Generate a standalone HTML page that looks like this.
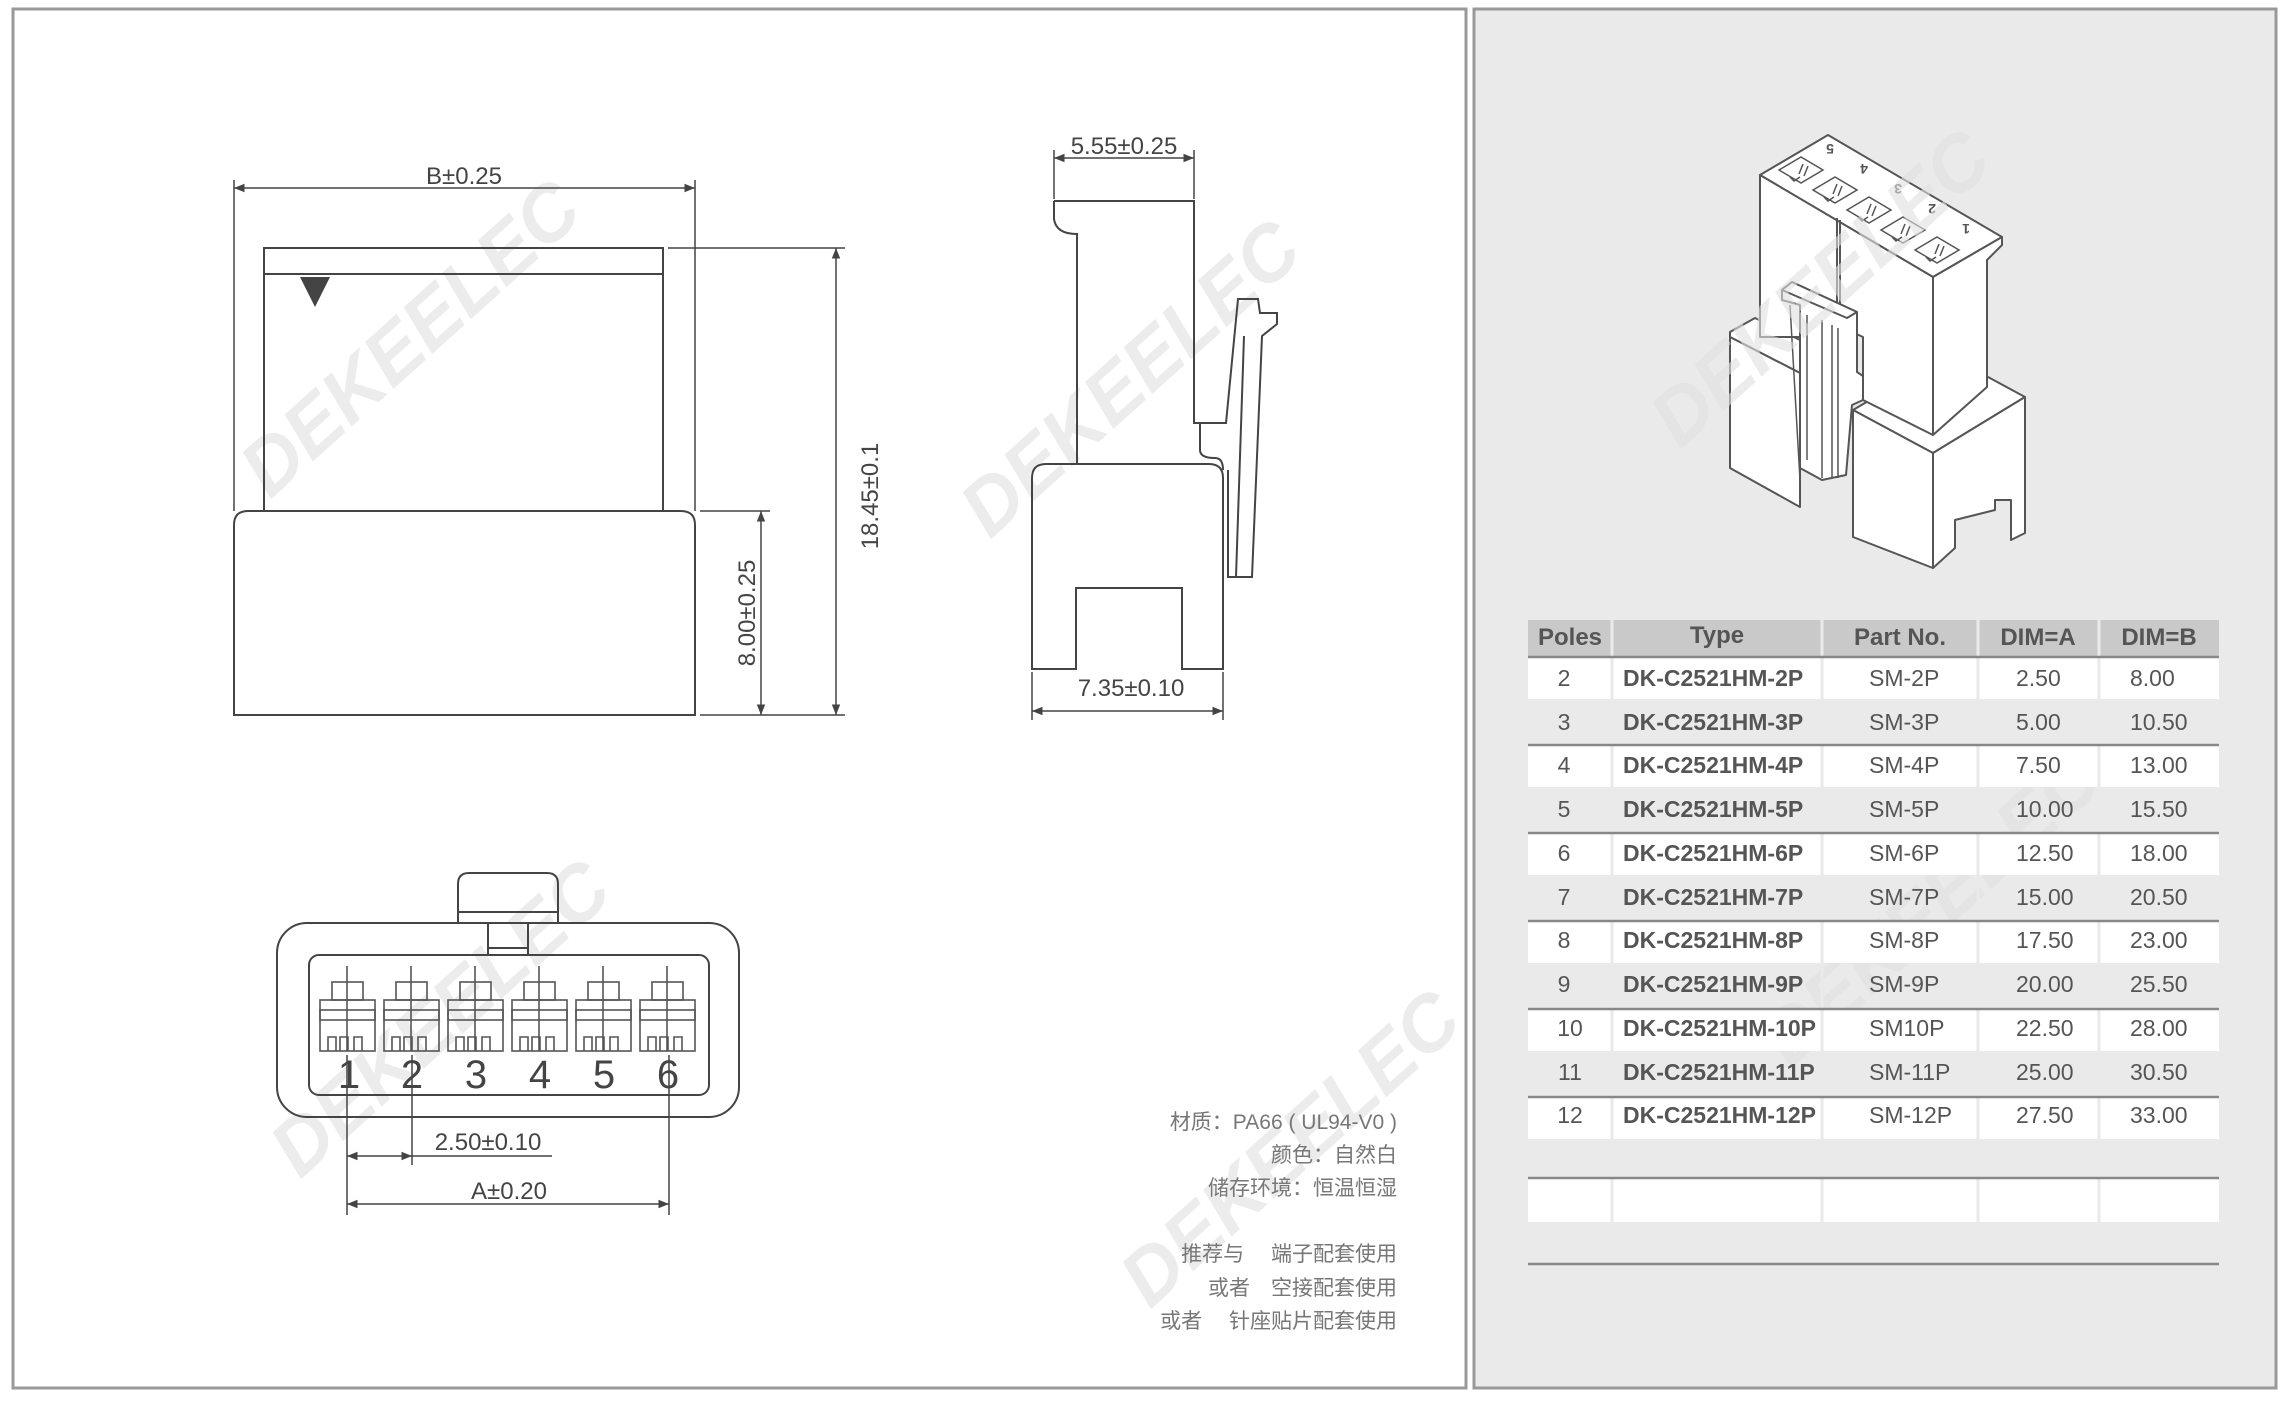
<!DOCTYPE html>
<html><head><meta charset="utf-8"><style>
body{margin:0;width:2289px;height:1401px;background:#fff;position:relative;overflow:hidden;font-family:"Liberation Sans","Noto Sans CJK SC",sans-serif}
</style></head><body>
<svg width="2289" height="1401" viewBox="0 0 2289 1401" style="position:absolute;left:0;top:0" font-family="Liberation Sans, sans-serif">
<defs><marker id="a" viewBox="0 0 10 10" refX="10" refY="5" markerWidth="9" markerHeight="7" orient="auto-start-reverse"><path d="M0,1 L10,5 L0,9 z" fill="#444"/></marker></defs>
<rect x="1474" y="9" width="802" height="1379" fill="#eaeaea" stroke="#999" stroke-width="3"/>
<rect x="13" y="9" width="1453" height="1379" fill="#fff" stroke="#999" stroke-width="3"/>
<g font-size="78" font-weight="bold" font-style="italic" fill="#ececec" stroke="none">
<text transform="translate(270,500) rotate(-42)">DEKEELEC</text>
<text transform="translate(990,540) rotate(-42)">DEKEELEC</text>
<text transform="translate(300,1180) rotate(-42)">DEKEELEC</text>
<text transform="translate(1150,1310) rotate(-42)">DEKEELEC</text>
</g>
<g fill="none" stroke="#444" stroke-width="2">
<rect x="264" y="248" width="399" height="263"/>
<line x1="264" y1="274" x2="663" y2="274"/>
<path d="M234,715 L234,525 Q234,511 248,511 L681,511 Q695,511 695,525 L695,715 Z"/>
<line x1="234" y1="180" x2="234" y2="511" stroke-width="1.5"/>
<line x1="695" y1="180" x2="695" y2="511" stroke-width="1.5"/>
<line x1="234" y1="188" x2="695" y2="188" marker-start="url(#a)" marker-end="url(#a)" stroke-width="1.5"/>
<line x1="668" y1="248" x2="845" y2="248" stroke-width="1.5"/>
<line x1="700" y1="715" x2="845" y2="715" stroke-width="1.5"/>
<line x1="700" y1="511" x2="770" y2="511" stroke-width="1.5"/>
<line x1="836" y1="248" x2="836" y2="715" marker-start="url(#a)" marker-end="url(#a)" stroke-width="1.5"/>
<line x1="761" y1="511" x2="761" y2="715" marker-start="url(#a)" marker-end="url(#a)" stroke-width="1.5"/>
<path d="M1054,201 L1194,201 L1194,423 L1200,423 L1200,450"/>
<path d="M1054,201 L1054,219 Q1056,234 1077,234 L1077,464"/>
<line x1="1054" y1="150" x2="1054" y2="199" stroke-width="1.5"/>
<line x1="1194" y1="150" x2="1194" y2="199" stroke-width="1.5"/>
<line x1="1054" y1="158" x2="1194" y2="158" marker-start="url(#a)" marker-end="url(#a)" stroke-width="1.5"/>
<path d="M1194,423 L1226,423 L1238,299 L1258,299 L1260,313 L1277,313 L1277,324 L1262,336 L1252,577 L1228,577 L1228,470"/>
<line x1="1244" y1="336" x2="1236" y2="577"/>
<path d="M1200,450 Q1200,458 1215,458 Q1223,458 1223,470"/>
<path d="M1032,669 L1032,478 Q1032,464 1046,464 L1209,464 Q1223,464 1223,478 L1223,669 L1182,669 L1182,588 L1076,588 L1076,669 Z"/>
<line x1="1032" y1="672" x2="1032" y2="720" stroke-width="1.5"/>
<line x1="1223" y1="672" x2="1223" y2="720" stroke-width="1.5"/>
<line x1="1032" y1="711" x2="1223" y2="711" marker-start="url(#a)" marker-end="url(#a)" stroke-width="1.5"/>
<rect x="277" y="923" width="462" height="194" rx="30"/>
<path d="M458,923 L458,884 Q458,873 469,873 L547,873 Q558,873 558,884 L558,923"/>
<line x1="458" y1="912" x2="558" y2="912"/>
<path d="M488,923 L488,955 M528,923 L528,955 M488,948 L528,948"/>
<rect x="309" y="955" width="400" height="140" rx="10"/>
</g>
<polygon points="300,277 330,277 315,307" fill="#444"/>
<g fill="none" stroke="#555" stroke-width="1.6">
<g id="c"><rect x="320" y="1010" width="55" height="41"/><rect x="320" y="1000" width="55" height="20"/><rect x="332" y="982" width="31" height="18"/><line x1="347" y1="966" x2="347" y2="1051"/><path d="M328,1051 V1037 h8 V1051 M340,1051 V1037 h8 V1051 M354,1051 V1037 h8 V1051"/></g>
<use href="#c" x="64"/><use href="#c" x="128"/><use href="#c" x="192"/><use href="#c" x="256"/><use href="#c" x="320"/>
</g>
<g fill="none" stroke="#444" stroke-width="1.5">
<line x1="347" y1="1055" x2="347" y2="1215"/><line x1="412" y1="1055" x2="412" y2="1165"/><line x1="669" y1="1055" x2="669" y2="1215"/>
<line x1="347" y1="1156" x2="412" y2="1156" marker-start="url(#a)" marker-end="url(#a)"/>
<line x1="412" y1="1156" x2="552" y2="1156"/>
<line x1="347" y1="1204" x2="669" y2="1204" marker-start="url(#a)" marker-end="url(#a)"/>
</g>
<g fill="#444" font-size="40" text-anchor="middle">
<text x="349" y="1088">1</text><text x="412" y="1088">2</text><text x="476" y="1088">3</text><text x="540" y="1088">4</text><text x="604" y="1088">5</text><text x="668" y="1088">6</text>
</g>
<g fill="#444" font-size="24" text-anchor="middle">
<text x="464" y="184">B±0.25</text>
<text x="1124" y="154">5.55±0.25</text>
<text x="1131" y="696">7.35±0.10</text>
<text x="488" y="1150">2.50±0.10</text>
<text x="509" y="1199">A±0.20</text>
<text transform="translate(878,496) rotate(-90)">18.45±0.1</text>
<text transform="translate(755,613) rotate(-90)">8.00±0.25</text>
</g>
<g fill="#777" font-size="21" text-anchor="end" font-family="Liberation Sans, Noto Sans CJK SC, sans-serif">
<text x="1397" y="1129">材质：PA66 ( UL94-V0 )</text>
<text x="1397" y="1162">颜色：自然白</text>
<text x="1397" y="1195">储存环境：恒温恒湿</text>
<text x="1397" y="1261">推荐与　  端子配套使用</text>
<text x="1397" y="1295">或者　空接配套使用</text>
<text x="1397" y="1328">或者　  针座贴片配套使用</text>
</g>
<!-- 3D -->
<g fill="#fff" stroke="#555" stroke-width="2" stroke-linejoin="round">
<!-- lower left block -->
<polygon points="1730,332 1755,318 1800,340 1800,373 1730,337"/>
<polygon points="1730,337 1800,373 1800,507 1730,468"/>
<!-- lower right block -->
<polygon points="1853,410 1870,400 1988,377 2025,397 1933,453"/>
<polygon points="1853,410 1933,453 1933,568 1853,537"/>
<polygon points="1933,453 2025,397 2025,533 2011,540 2011,500 1995,500 1995,510 1955,520 1955,548 1933,568"/>
<!-- upper box -->
<polygon points="1760,175 1828,135 2002,237 1933,277"/>
<polygon points="1760,175 1933,277 1933,435 1863,400 1863,337 1837,325 1837,337 1760,337"/>
<polygon points="1933,277 2002,237 2002,245 1987,260 1987,387 1933,435"/>
<line x1="1837" y1="218" x2="1837" y2="325"/>
<line x1="1840" y1="220" x2="1840" y2="325"/>
<!-- latch -->
<polygon points="1782,290 1792,282 1857,312 1857,372 1863,376 1863,400 1852,405 1846,475 1822,480 1800,468 1800,305 1782,300"/>
<polygon points="1782,290 1792,282 1857,312 1847,318" fill="#fff"/>
</g>
<g fill="none" stroke="#555" stroke-width="1.5">
<line x1="1790" y1="305" x2="1800" y2="480"/><line x1="1807" y1="315" x2="1807" y2="460"/><line x1="1822" y1="320" x2="1822" y2="478"/><line x1="1832" y1="325" x2="1832" y2="478"/><line x1="1838" y1="328" x2="1838" y2="478"/>
<g id="s"><path d="M1779,170 l22,-13 l22,13 l-22,13 z M1790,177 l4,4 l6,-4 M1803,164 l-4,10 M1808,166 l-4,10"/></g>
<use href="#s" x="34" y="20"/><use href="#s" x="68" y="40"/><use href="#s" x="102" y="60"/><use href="#s" x="136" y="80"/>
</g>
<g fill="#555" font-size="14" font-weight="bold"><text x="1826" y="152" transform="rotate(180 1830 148)">5</text><text x="1860" y="172" transform="rotate(180 1864 168)">4</text><text x="1894" y="192" transform="rotate(180 1898 188)">3</text><text x="1928" y="212" transform="rotate(180 1932 208)">2</text><text x="1962" y="232" transform="rotate(180 1966 228)">1</text></g>
<g font-size="78" font-weight="bold" font-style="italic" fill="#e0e0e0" fill-opacity="0.6">
<text transform="translate(1680,450) rotate(-42)">DEKEELEC</text>
<text transform="translate(1790,1070) rotate(-42)">DEKEELEC</text>
</g>
<!-- table -->
<rect x="1528" y="620" width="691" height="36" fill="#c9c9c9"/>
<g fill="#fff">
<rect x="1528" y="657" width="691" height="42"/><rect x="1528" y="745" width="691" height="42"/><rect x="1528" y="833" width="691" height="42"/><rect x="1528" y="921" width="691" height="42"/><rect x="1528" y="1009" width="691" height="42"/><rect x="1528" y="1097" width="691" height="42"/><rect x="1528" y="1178" width="691" height="44"/>
</g>
<g stroke="#eaeaea" stroke-width="3"><line x1="1612" y1="620" x2="1612" y2="1222"/><line x1="1822" y1="620" x2="1822" y2="1222"/><line x1="1978" y1="620" x2="1978" y2="1222"/><line x1="2099" y1="620" x2="2099" y2="1222"/></g>
<g stroke="#888" stroke-width="2.5"><line x1="1528" y1="657" x2="2219" y2="657"/><line x1="1528" y1="745" x2="2219" y2="745"/><line x1="1528" y1="833" x2="2219" y2="833"/><line x1="1528" y1="921" x2="2219" y2="921"/><line x1="1528" y1="1009" x2="2219" y2="1009"/><line x1="1528" y1="1097" x2="2219" y2="1097"/><line x1="1528" y1="1178" x2="2219" y2="1178"/><line x1="1528" y1="1264" x2="2219" y2="1264"/></g>
<g fill="#555" font-size="24" font-weight="bold" text-anchor="middle">
<text x="1570" y="645">Poles</text><text x="1717" y="643">Type</text><text x="1900" y="645">Part No.</text><text x="2038" y="645">DIM=A</text><text x="2159" y="645">DIM=B</text>
</g>
<g fill="#555" font-size="23">
<g text-anchor="middle"><text x="1564" y="686">2</text><text x="1564" y="730">3</text><text x="1564" y="773">4</text><text x="1564" y="817">5</text><text x="1564" y="861">6</text><text x="1564" y="905">7</text><text x="1564" y="948">8</text><text x="1564" y="992">9</text><text x="1570" y="1036">10</text><text x="1570" y="1080">11</text><text x="1570" y="1123">12</text></g>
<g font-weight="bold"><text x="1623" y="686">DK-C2521HM-2P</text><text x="1623" y="730">DK-C2521HM-3P</text><text x="1623" y="773">DK-C2521HM-4P</text><text x="1623" y="817">DK-C2521HM-5P</text><text x="1623" y="861">DK-C2521HM-6P</text><text x="1623" y="905">DK-C2521HM-7P</text><text x="1623" y="948">DK-C2521HM-8P</text><text x="1623" y="992">DK-C2521HM-9P</text><text x="1623" y="1036">DK-C2521HM-10P</text><text x="1623" y="1080">DK-C2521HM-11P</text><text x="1623" y="1123">DK-C2521HM-12P</text></g>
<g><text x="1869" y="686">SM-2P</text><text x="1869" y="730">SM-3P</text><text x="1869" y="773">SM-4P</text><text x="1869" y="817">SM-5P</text><text x="1869" y="861">SM-6P</text><text x="1869" y="905">SM-7P</text><text x="1869" y="948">SM-8P</text><text x="1869" y="992">SM-9P</text><text x="1869" y="1036">SM10P</text><text x="1869" y="1080">SM-11P</text><text x="1869" y="1123">SM-12P</text></g>
<g><text x="2016" y="686">2.50</text><text x="2016" y="730">5.00</text><text x="2016" y="773">7.50</text><text x="2016" y="817">10.00</text><text x="2016" y="861">12.50</text><text x="2016" y="905">15.00</text><text x="2016" y="948">17.50</text><text x="2016" y="992">20.00</text><text x="2016" y="1036">22.50</text><text x="2016" y="1080">25.00</text><text x="2016" y="1123">27.50</text></g>
<g><text x="2130" y="686">8.00</text><text x="2130" y="730">10.50</text><text x="2130" y="773">13.00</text><text x="2130" y="817">15.50</text><text x="2130" y="861">18.00</text><text x="2130" y="905">20.50</text><text x="2130" y="948">23.00</text><text x="2130" y="992">25.50</text><text x="2130" y="1036">28.00</text><text x="2130" y="1080">30.50</text><text x="2130" y="1123">33.00</text></g>
</g>
</svg>
</body></html>
